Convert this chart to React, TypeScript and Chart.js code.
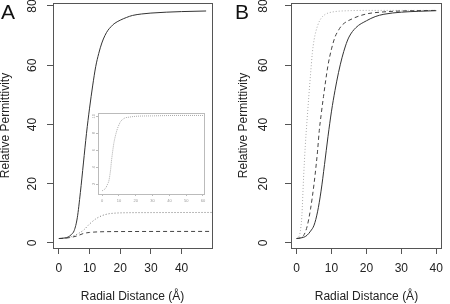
import React, { useEffect, useRef } from "react";
import { Chart, registerables } from "chart.js";
Chart.register(...registerables);

const FONT = "'Liberation Sans', Arial, Helvetica, sans-serif";

// ---- tick labels ----
const xTicksA = [0, 10, 20, 30, 40];
const xTicksB = [0, 10, 20, 30, 40];
const yTicks = [0, 20, 40, 60, 80];
const insetXTicks = [0, 10, 20, 30, 40, 50, 60];
const insetYTicks = [2, 4, 6, 8, 10];

const xTitle = "Radial Distance (Å)";
const yTitle = "Relative Permittivity";

// ---- Panel A ----
const rA_solid = [0, 2, 3, 4, 5, 6, 7, 8, 9, 10, 11, 12, 13, 14, 15, 16, 17, 18, 20, 22, 24, 27, 30, 35, 40, 48];
const epsA_solid = [1.5, 1.7, 2, 2.8, 4.2, 8.5, 17, 27, 37, 45.5, 53, 59.5, 64, 67.5, 70, 71.8, 73, 74, 75.2, 76.1, 76.8, 77.3, 77.6, 77.9, 78.1, 78.3];
const rA_dotted = [0, 2, 4, 6, 8, 10, 12, 14, 16, 18, 22, 30, 50];
const epsA_dotted = [1.5, 1.6, 2.1, 3, 4.3, 6.4, 8.1, 9.2, 9.8, 10.05, 10.2, 10.25, 10.3];
const rA_dashed = [0, 2, 4, 6, 8, 10, 13, 20, 50];
const epsA_dashed = [1.5, 1.6, 1.9, 2.4, 3.2, 3.55, 3.75, 3.85, 3.9];

// ---- Inset of panel A ----
const rInset = [0, 2, 3, 4, 4.6, 5, 5.5, 6, 6.5, 7, 8, 9, 10, 11, 12, 13.5, 16, 20, 30, 45, 60];
const vInset = [1.2, 1.5, 1.9, 2.4, 3.1, 3.7, 4.7, 5.5, 6.25, 6.9, 7.8, 8.5, 9.0, 9.4, 9.6, 9.8, 9.9, 10.0, 10.05, 10.1, 10.1];

// ---- Panel B ----
const rB_solid = [0, 2, 3, 4, 5, 6, 7, 8, 9, 10, 11, 12, 13, 14, 15, 17, 20, 22.5, 25, 30, 35, 40];
const epsB_solid = [1.5, 1.9, 2.6, 4, 6, 10.5, 17.5, 26.5, 36, 44.5, 51.5, 57.5, 62.5, 66.5, 69.5, 72.7, 75, 76.4, 77.2, 77.9, 78.2, 78.4];
const rB_dashed = [0, 1, 2, 3, 4, 5, 5.6, 6, 6.5, 7, 7.7, 9, 10, 11, 12, 13, 16, 20, 25, 30, 40];
const epsB_dashed = [1.5, 1.7, 2.5, 5.5, 11.5, 20, 26.3, 31, 38, 43, 49.4, 60, 65.5, 69.5, 71.8, 73.5, 75.7, 77.3, 78, 78.3, 78.5];
const rB_dotted = [0, 0.5, 1, 1.5, 2, 2.5, 3, 3.5, 4, 4.5, 5, 6, 7, 8, 9, 11, 15, 20, 40];
const epsB_dotted = [1.5, 1.9, 3.5, 9, 22, 33, 41.5, 49.5, 57, 64, 68.5, 73.3, 75.8, 77, 77.6, 78.1, 78.4, 78.5, 78.5];

function pts(xs: number[], ys: number[]) {
  return xs.map((x, i) => ({ x, y: ys[i] }));
}

function al(p: number) {
  return Math.round(p - 0.5) + 0.5;
}

function framePlugin(cfg: { boxColor: string; labelX: number; fontSize: number; labelColor: string; yValues: number[] }) {
  return {
    id: "frameAndYLabels",
    afterDraw(chart: any) {
      const { ctx, chartArea: a } = chart;
      ctx.save();
      ctx.strokeStyle = cfg.boxColor;
      ctx.lineWidth = 1;
      ctx.setLineDash([]);
      const x0 = al(a.left), y0 = al(a.top), x1 = al(a.right), y1 = al(a.bottom);
      ctx.strokeRect(x0, y0, x1 - x0, y1 - y0);
      const ys = chart.scales.y;
      ctx.fillStyle = cfg.labelColor;
      ctx.font = `${cfg.fontSize}px ${FONT}`;
      ctx.textAlign = "center";
      ctx.textBaseline = "middle";
      for (const v of cfg.yValues) {
        const y = ys.getPixelForValue(v);
        ctx.save();
        ctx.translate(cfg.labelX, y);
        ctx.rotate(-Math.PI / 2);
        ctx.fillText(String(v), 0, 0);
        ctx.restore();
      }
      ctx.restore();
    },
  };
}

type LineSpec = { data: { x: number; y: number }[]; color: string; dash: number[] };

function makeConfig(lines: LineSpec[], o: any) {
  return {
    type: "line",
    data: {
      datasets: lines.map((l) => ({
        data: l.data,
        borderColor: l.color,
        borderWidth: 1,
        borderDash: l.dash,
        pointRadius: 0,
        fill: false,
        cubicInterpolationMode: "monotone",
      })),
    },
    options: {
      animation: false,
      responsive: false,
      devicePixelRatio: 1,
      events: [],
      layout: { padding: o.padding },
      plugins: { legend: { display: false }, tooltip: { enabled: false }, title: { display: false } },
      scales: {
        x: {
          type: "linear",
          min: o.xMin,
          max: o.xMax,
          afterBuildTicks: (s: any) => {
            s.ticks = o.xTicks.map((v: number) => ({ value: v }));
          },
          afterFit: (s: any) => {
            s.height = o.xHeight;
          },
          grid: { drawOnChartArea: false, drawTicks: true, tickLength: o.tickLen, color: o.tickColor, lineWidth: 1 },
          border: { display: false },
          ticks: {
            color: o.labelColor,
            font: { family: FONT, size: o.fontSize },
            padding: o.tickPad,
            maxRotation: 0,
            minRotation: 0,
            autoSkip: false,
          },
          title: o.xTitle
            ? { display: true, text: o.xTitle, color: o.labelColor, font: { family: FONT, size: 12 }, padding: { top: 0, bottom: 0 } }
            : { display: false },
        },
        y: {
          type: "linear",
          min: o.yMin,
          max: o.yMax,
          afterBuildTicks: (s: any) => {
            s.ticks = o.yTicks.map((v: number) => ({ value: v }));
          },
          afterFit: (s: any) => {
            s.width = o.yWidth;
          },
          grid: { drawOnChartArea: false, drawTicks: true, tickLength: o.tickLen, color: o.tickColor, lineWidth: 1 },
          border: { display: false },
          ticks: { display: false },
          title: o.yTitle
            ? { display: true, text: o.yTitle, color: o.labelColor, font: { family: FONT, size: 12 }, padding: { top: o.yTitlePad, bottom: 0 } }
            : { display: false },
        },
      },
    },
    plugins: [
      framePlugin({ boxColor: o.boxColor, labelX: o.yLabelX, fontSize: o.fontSize, labelColor: o.labelColor, yValues: o.yTicks }),
    ],
  } as any;
}

export default function App() {
  const aRef = useRef<HTMLCanvasElement>(null);
  const bRef = useRef<HTMLCanvasElement>(null);
  const iRef = useRef<HTMLCanvasElement>(null);

  useEffect(() => {
    const cfgA = makeConfig(
      [
        { data: pts(rA_solid, epsA_solid), color: "#333", dash: [] },
        { data: pts(rA_dotted, epsA_dotted), color: "#777", dash: [1, 2] },
        { data: pts(rA_dashed, epsA_dashed), color: "#444", dash: [4, 3] },
      ],
      {
        padding: { left: 0, top: 3, right: 13, bottom: 0 },
        xMin: -1.92, xMax: 49.92, yMin: -1.7, yMax: 81,
        xTicks: xTicksA, yTicks,
        xHeight: 56, yWidth: 53,
        tickLen: 6, tickColor: "#555", boxColor: "#555", labelColor: "#222",
        fontSize: 12, tickPad: 7,
        xTitle, yTitle, yTitlePad: -1.2, yLabelX: 32.5,
      }
    );
    const cfgB = makeConfig(
      [
        { data: pts(rB_solid, epsB_solid), color: "#333", dash: [] },
        { data: pts(rB_dashed, epsB_dashed), color: "#444", dash: [4, 3] },
        { data: pts(rB_dotted, epsB_dotted), color: "#aaa", dash: [1, 2] },
      ],
      {
        padding: { left: 0, top: 3, right: 1, bottom: 0 },
        xMin: -1.6, xMax: 41.6, yMin: -1.7, yMax: 81,
        xTicks: xTicksB, yTicks,
        xHeight: 56, yWidth: 66,
        tickLen: 6, tickColor: "#555", boxColor: "#555", labelColor: "#222",
        fontSize: 12, tickPad: 7,
        xTitle, yTitle, yTitlePad: 11.3, yLabelX: 38.5,
      }
    );
    const cfgI = makeConfig(
      [{ data: pts(rInset, vInset), color: "#aaa", dash: [1, 1] }],
      {
        padding: { left: 0, top: 5, right: 6, bottom: 0 },
        xMin: -2.5, xMax: 60.6, yMin: 0.82, yMax: 10.39,
        xTicks: insetXTicks, yTicks: insetYTicks,
        xHeight: 14, yWidth: 10,
        tickLen: 2, tickColor: "#bbb", boxColor: "#bbb", labelColor: "#999",
        fontSize: 4, tickPad: 2.6,
        xTitle: null, yTitle: null, yTitlePad: 0, yLabelX: 5.5,
      }
    );
    const charts = [
      new Chart(aRef.current as HTMLCanvasElement, cfgA),
      new Chart(bRef.current as HTMLCanvasElement, cfgB),
      new Chart(iRef.current as HTMLCanvasElement, cfgI),
    ];
    return () => charts.forEach((c) => c.destroy());
  }, []);

  const letter: React.CSSProperties = {
    position: "absolute",
    top: 0.5,
    fontFamily: FONT,
    fontSize: 21,
    lineHeight: "21px",
    color: "#111",
  };

  return (
    <div style={{ position: "fixed", left: 0, top: 0, width: 450, height: 304, background: "#fff", overflow: "hidden" }}>
      <canvas ref={aRef} width={225} height={304} style={{ position: "absolute", left: 0, top: 0, display: "block" }} />
      <canvas ref={bRef} width={225} height={304} style={{ position: "absolute", left: 225, top: 0, display: "block" }} />
      <canvas ref={iRef} width={122} height={100} style={{ position: "absolute", left: 88, top: 108, display: "block" }} />
      <div style={{ ...letter, left: 1 }}>A</div>
      <div style={{ ...letter, left: 235 }}>B</div>
    </div>
  );
}
